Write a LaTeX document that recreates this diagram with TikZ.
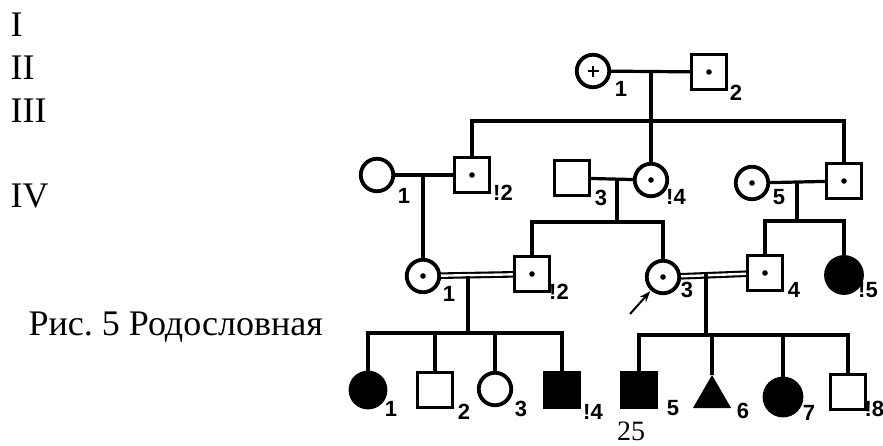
\documentclass[tikz,border=0pt]{standalone}
\usepackage{fontspec}
\setmainfont{Liberation Serif}
\newfontfamily\pedfont{Liberation Sans}
\usetikzlibrary{shapes.geometric, arrows.meta}

\begin{document}
\begin{tikzpicture}[x=1pt, y=-1pt, line width=3.2pt,
    female/.style={circle, draw, line width=3.8pt, minimum size=32.5pt, inner sep=0pt},
    male/.style={rectangle, draw, line width=3.3pt, minimum size=35pt, inner sep=0pt},
    affected/.style={fill=black},
    carrier/.style={path picture={\fill (path picture bounding box.center) circle (2.8pt);}},
    plusmark/.style={path picture={\draw[line width=2.8pt]
        ([xshift=-5.5pt]path picture bounding box.center) -- ([xshift=5.5pt]path picture bounding box.center)
        ([yshift=-5.5pt]path picture bounding box.center) -- ([yshift=5.5pt]path picture bounding box.center);}},
    marry/.style={double, double distance=2.4pt, line width=2.1pt},
    num/.style={font=\pedfont\bfseries\fontsize{22}{22}\selectfont, inner sep=0pt},
    gen/.style={font=\fontsize{36}{40}\selectfont, inner sep=0pt, anchor=base west}]
        \useasboundingbox (0,0) rectangle (883,445);

        % Generations and caption
        \node[gen] (g1) at (9,36) {I};
        \node[gen] (g2) at (9,79) {II};
        \node[gen] (g3) at (9,122) {III};
        \node[gen] (g4) at (9,207) {IV};
        \node[gen] (caption) at (27,335) {Рис.\ 5 Родословная};
        \node[font=\fontsize{28}{28}\selectfont, inner sep=0pt, anchor=base] (page) at (631,440) {25};

        % Generation I
        \node[female, plusmark] (i1) at (593,71) {};
        \node[male, carrier] (i2) at (709,72) {};
        \node[num] (n-i1) at (621,89) {1};
        \node[num] (n-i2) at (736,93) {2};
        \coordinate (m1) at (651,71.5);
        \coordinate (s1) at (651,121);
        \draw (i1) -- (i2);

        % Generation II
        \node[female] (ii1) at (377,175) {};
        \node[male, carrier] (ii2) at (472,175) {};
        \node[male] (ii3) at (572,178) {};
        \node[female, carrier] (ii4) at (651,180) {};
        \node[female, carrier] (ii5) at (752,183) {};
        \node[male, carrier] (ii6) at (844,181) {};
        \node[num] (n-ii1) at (404,196) {1};
        \node[num] (n-ii2) at (503,193) {!2};
        \node[num] (n-ii3) at (601,198) {3};
        \node[num] (n-ii4) at (676,197) {!4};
        \node[num] (n-ii5) at (779,197) {5};
        \draw (ii2) |- (s1) -| (ii6);
        \draw (m1) -- (ii4);
        \draw (ii1) -- (ii2);
        \draw (ii3) -- (ii4);
        \draw (ii5) -- (ii6);
        \coordinate (m2) at (423,175);
        \coordinate (m3) at (617,178.5);
        \coordinate (m4) at (797,182);
        \coordinate (s3) at (617,222);
        \coordinate (s4) at (797,221);

        % Generation III
        \node[female, carrier] (iii1) at (423,276) {};
        \node[male, carrier] (iii2) at (532,274) {};
        \node[female, carrier] (iii3) at (663,277) {};
        \node[male, carrier] (iii4) at (765,273) {};
        \node[female, affected, minimum size=36pt] (iii5) at (844,275) {};
        \node[num] (n-iii1) at (449,294) {1};
        \node[num] (n-iii2) at (559,292) {!2};
        \node[num] (n-iii3) at (687,290) {3};
        \node[num] (n-iii4) at (794,290) {4};
        \node[num] (n-iii5) at (868,290) {!5};
        \draw (m2) -- (iii1);
        \draw (m3) -- (s3);
        \draw (iii2) |- (s3) -| (iii3);
        \draw (m4) -- (s4);
        \draw (iii4) |- (s4) -| (iii5);
        \draw[marry] (iii1) -- (iii2);
        \draw[marry] (iii3) -- (iii4);
        \coordinate (pa) at (630,314);
        \draw[-{Stealth[length=11pt, width=8pt]}, line width=2pt, shorten >=1pt] (pa) -- (iii3);
        \coordinate (m5) at (468,276);
        \coordinate (m6) at (706,274);
        \coordinate (s5) at (468,333);
        \coordinate (s6) at (706,335);

        % Generation IV
        \node[female, affected, minimum size=35pt] (iv1) at (368,390) {};
        \node[male] (iv2) at (435,390) {};
        \node[female] (iv3) at (495,389) {};
        \node[male, affected] (iv4) at (562,390) {};
        \node[male, affected] (iv5) at (639,390) {};
        \node[regular polygon, regular polygon sides=3, draw, fill=black, line width=1pt,
            minimum size=42pt, inner sep=0pt] (iv6) at (712,397) {};
        \node[female, affected, minimum size=37pt] (iv7) at (783,397) {};
        \node[male] (iv8) at (848,392) {};
        \node[num] (n-iv1) at (391,409) {1};
        \node[num] (n-iv2) at (464,412) {2};
        \node[num] (n-iv3) at (521,409) {3};
        \node[num] (n-iv4) at (593,412) {!4};
        \node[num] (n-iv5) at (673,408) {5};
        \node[num] (n-iv6) at (743,411) {6};
        \node[num] (n-iv7) at (809,413) {7};
        \node[num, anchor=west] (n-iv8) at (863,409) {!8};
        \draw (m5) -- (s5);
        \draw (m6) -- (s6);
        \draw (iv1) |- (s5) -| (iv4);
        \draw (iv2) -- (iv2 |- s5);
        \draw (iv3) -- (iv3 |- s5);
        \draw (iv5) |- (s6) -| (iv8);
        \draw (iv6) -- (iv6 |- s6);
        \draw (iv7) -- (iv7 |- s6);

    \end{tikzpicture}
\end{document}
